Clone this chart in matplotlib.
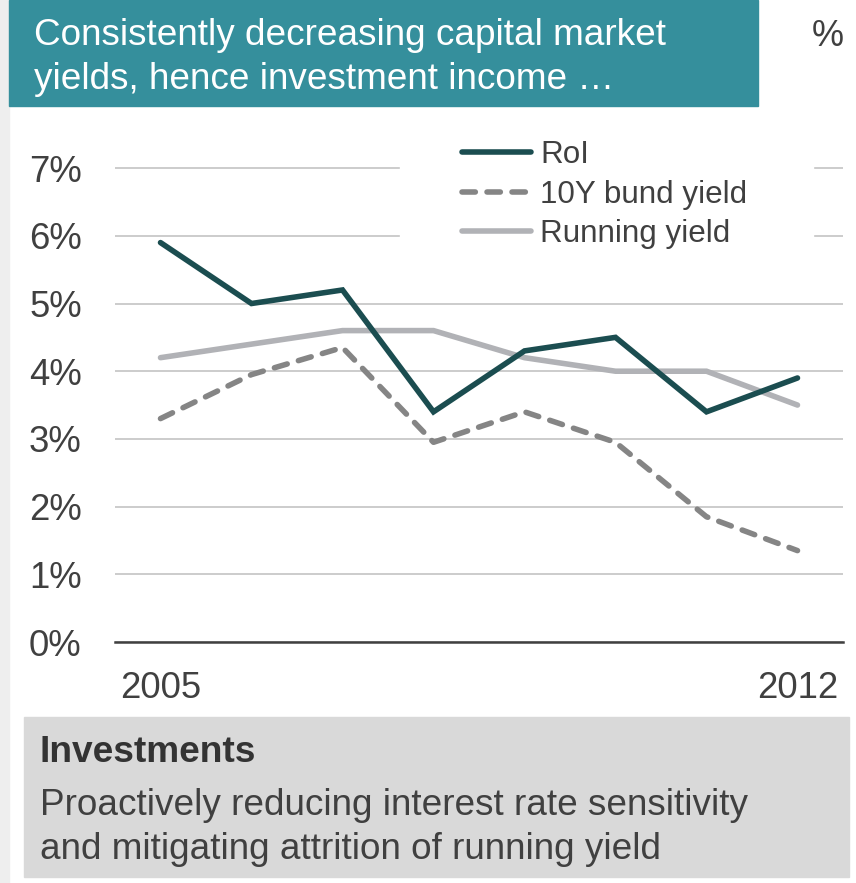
import matplotlib.pyplot as plt
from matplotlib.patches import Rectangle

# data
years = [2005, 2006, 2007, 2008, 2009, 2010, 2011, 2012]
roi = [5.9, 5.0, 5.2, 3.4, 4.3, 4.5, 3.4, 3.9]
bund_10y = [3.3, 3.95, 4.35, 2.95, 3.4, 2.95, 1.85, 1.35]
running_yield = [4.2, 4.4, 4.6, 4.6, 4.2, 4.0, 4.0, 3.5]
y_ticks = [0, 1, 2, 3, 4, 5, 6, 7]
x_ticks = [2005, 2012]
series_names = ["RoI", "10Y bund yield", "Running yield"]

title_lines = ["Consistently decreasing capital market",
               "yields, hence investment income \u2026"]
box_head = "Investments"
box_lines = ["Proactively reducing interest rate sensitivity",
             "and mitigating attrition of running yield"]

W, H = 856, 883
plt.rcParams['font.family'] = ['Liberation Sans', 'DejaVu Sans']
TXT = '#404040'


def fx(x):
    return x / W


def fy(y):
    return 1 - y / H


def main():
    fig = plt.figure(figsize=(W / 100, H / 100), dpi=100)

    # background blocks
    fig.add_artist(Rectangle((0, 0), fx(9), 1, transform=fig.transFigure,
                             color='#eeeeee', zorder=0))
    fig.add_artist(Rectangle((fx(9), fy(106)), fx(758 - 9), 106 / H,
                             transform=fig.transFigure, color='#358f9c', zorder=0))
    fig.add_artist(Rectangle((fx(24), fy(877)), fx(849 - 24), (877 - 717) / H,
                             transform=fig.transFigure, color='#d9d9d9', zorder=0))

    # title text
    fig.text(fx(34), fy(45), title_lines[0], color='white', fontsize=26.6, va='baseline')
    fig.text(fx(34), fy(89), title_lines[1], color='white', fontsize=26.6, va='baseline')
    fig.text(fx(812), fy(46), "%", color=TXT, fontsize=26, va='baseline')

    # bottom box text
    fig.text(fx(40), fy(762), box_head, color='#333333', fontsize=26.7,
             fontweight='bold', va='baseline')
    fig.text(fx(40), fy(815), box_lines[0], color=TXT, fontsize=26.6, va='baseline')
    fig.text(fx(40), fy(859), box_lines[1], color=TXT, fontsize=26.6, va='baseline')

    # chart
    ax = fig.add_axes([fx(115), (H - 642) / H, fx(728), 514.5 / H])
    ax.set_xlim(2004.5, 2012.5)
    ax.set_ylim(0, 7.6)
    ax.set_axisbelow(True)
    ax.yaxis.grid(True, color='#c8c8c8', lw=1.3)
    ax.set_yticks(y_ticks)
    ax.set_yticklabels([f"{v}%" for v in y_ticks])
    ax.set_xticks(x_ticks)
    ax.set_xticklabels([str(v) for v in x_ticks])
    for s in ['top', 'right', 'left']:
        ax.spines[s].set_visible(False)
    ax.spines['bottom'].set_color(TXT)
    ax.spines['bottom'].set_linewidth(1.8)
    ax.tick_params(axis='y', length=0, pad=24, labelsize=26.3, labelcolor=TXT)
    ax.tick_params(axis='x', length=0, pad=21, labelsize=26.3, labelcolor=TXT)

    ax.plot(years, roi, color='#1b4d50', lw=4, solid_capstyle='round',
            solid_joinstyle='miter', label=series_names[0], zorder=3)
    ax.plot(years, bund_10y, color='#858585', lw=4, dashes=(2.4, 2.1),
            dash_capstyle='round', label=series_names[1], zorder=2)
    ax.plot(years, running_yield, color='#b1b2b6', lw=4, solid_capstyle='round',
            solid_joinstyle='miter', label=series_names[2], zorder=2.5)

    # white area behind legend hides grid lines
    ax.add_patch(Rectangle((0.391, 0.762), 0.568, 0.24, transform=ax.transAxes,
                           color='white', zorder=1, clip_on=False))
    handles, labels = ax.get_legend_handles_labels()
    leg = ax.legend(handles, labels,
                    loc='upper left', bbox_to_anchor=(0.4766, 0.975),
                    frameon=False, fontsize=22.6, handlelength=2.2,
                    handletextpad=0.3, labelspacing=0.3, borderpad=0,
                    borderaxespad=0)
    for t in leg.get_texts():
        t.set_color(TXT)

    fig.savefig('out.png', dpi=100)


if __name__ == "__main__":
    main()
